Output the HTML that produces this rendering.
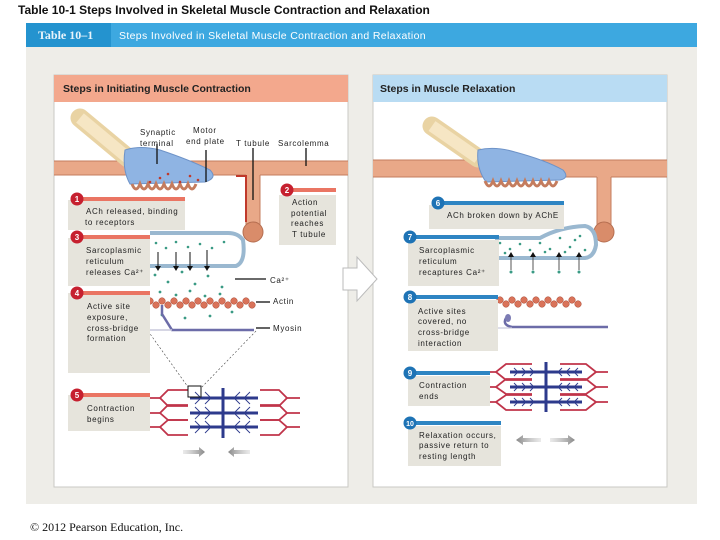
<!DOCTYPE html>
<html><head><meta charset="utf-8"><style>
html,body{margin:0;padding:0;background:#fff;}
svg{display:block;font-family:"Liberation Sans",Arial,sans-serif;}
.t{font-size:8px;fill:#222;letter-spacing:0.65px}
</style></head><body>
<svg width="720" height="540" viewBox="0 0 720 540" xmlns="http://www.w3.org/2000/svg">
<defs>
<linearGradient id="ga" x1="0" x2="1"><stop offset="0" stop-color="#bbb" stop-opacity="0.3"/><stop offset="1" stop-color="#888"/></linearGradient>
<linearGradient id="gb" x1="1" x2="0"><stop offset="0" stop-color="#bbb" stop-opacity="0.3"/><stop offset="1" stop-color="#888"/></linearGradient>
</defs>
<text x="18" y="14" font-size="12" font-weight="bold" fill="#111">Table 10-1  Steps Involved in Skeletal Muscle Contraction and Relaxation</text>
<rect x="26" y="47" width="671" height="457" fill="#eeede8"/>
<rect x="26" y="23" width="671" height="24" fill="#3da8e0"/>
<rect x="26" y="23" width="85" height="24" fill="#2493cf"/>
<text x="38" y="39" font-size="12" font-weight="bold" fill="#e8f4fb" font-family="Liberation Serif,serif">Table 10–1</text>
<text x="119" y="39" font-size="10.5" fill="#fff" letter-spacing="0.35">Steps Involved in Skeletal Muscle Contraction and Relaxation</text>

<!-- panels -->
<rect x="54" y="75" width="294" height="412" fill="#fff" stroke="#c9c9c4"/>
<rect x="54" y="75" width="294" height="27" fill="#f3a88d"/>
<text x="63" y="92" font-size="10.5" font-weight="bold" fill="#222">Steps in Initiating Muscle Contraction</text>
<rect x="373" y="75" width="294" height="412" fill="#fff" stroke="#c9c9c4"/>
<rect x="373" y="75" width="294" height="27" fill="#b9dcf3"/>
<text x="380" y="92" font-size="10.5" font-weight="bold" fill="#222">Steps in Muscle Relaxation</text>

<!-- big arrow -->
<polygon points="343,268 357,268 357,257 377,279 357,301 357,290 343,290" fill="#fff" stroke="#bbb"/>

<!-- LEFT illustration -->
<rect x="54" y="161" width="294" height="14" fill="#e9a888"/>
<line x1="54" y1="161" x2="348" y2="161" stroke="#c47c5e"/>
<line x1="54" y1="175" x2="246" y2="175" stroke="#c47c5e"/>
<line x1="260" y1="175" x2="348" y2="175" stroke="#c47c5e"/>
<rect x="246" y="174" width="14" height="56" fill="#e9a888"/>
<line x1="246" y1="175" x2="246" y2="228" stroke="#c47c5e"/>
<line x1="260" y1="175" x2="260" y2="228" stroke="#c47c5e"/>
<circle cx="253" cy="232" r="10" fill="#d98c6a" stroke="#b56e50"/>
<path d="M236 176 H246 V222" fill="none" stroke="#c0392b" stroke-width="2"/>
<path d="M80 118 L128 158" stroke="#e9d3a3" stroke-width="19" stroke-linecap="round"/>
<path d="M80 118 L128 158" stroke="#f6e6c4" stroke-width="12"/>
<path d="M125 150 Q140 145 160 150 Q190 160 210 170 Q218 178 205 182 L130 184 Q122 170 125 150Z" fill="#8fb4e3" stroke="#6e93c8"/>
<path d="M132 184 q4 10 8 0 q4 10 8 0 q4 10 8 0 q4 10 8 0 q4 10 8 0 q4 10 8 0 q4 10 8 0 q4 10 8 0" fill="none" stroke="#c47c5e" stroke-width="3"/>
<g fill="#c0392b"><circle cx="160" cy="178" r="1.3"/><circle cx="168" cy="174" r="1.3"/><circle cx="180" cy="182" r="1.3"/><circle cx="190" cy="176" r="1.3"/><circle cx="198" cy="180" r="1.3"/><circle cx="150" cy="182" r="1.3"/></g>
<g stroke="#111" stroke-width="1.3"><line x1="157" y1="144" x2="157" y2="164"/><line x1="206" y1="150" x2="206" y2="182"/><line x1="253" y1="148" x2="253" y2="200"/><line x1="306" y1="148" x2="306" y2="166"/></g>
<text class="t" x="140" y="135">Synaptic</text><text class="t" x="140" y="146">terminal</text>
<text class="t" x="193" y="133">Motor</text><text class="t" x="186" y="144">end plate</text>
<text class="t" x="236" y="146">T tubule</text><text class="t" x="278" y="146">Sarcolemma</text>
<!-- SR left -->
<path d="M150 233 H228 Q238 233 243 240 Q246 262 236 266 H150" fill="none" stroke="#9ab8d0" stroke-width="4"/>
<g fill="#3a9a84">
<circle cx="156" cy="243" r="1.3"/><circle cx="166" cy="248" r="1.3"/><circle cx="176" cy="242" r="1.3"/><circle cx="188" cy="247" r="1.3"/><circle cx="200" cy="244" r="1.3"/><circle cx="212" cy="248" r="1.3"/><circle cx="224" cy="242" r="1.3"/>
<circle cx="155" cy="275" r="1.4"/><circle cx="168" cy="282" r="1.4"/><circle cx="182" cy="272" r="1.4"/><circle cx="195" cy="284" r="1.4"/><circle cx="208" cy="276" r="1.4"/><circle cx="222" cy="287" r="1.4"/><circle cx="160" cy="292" r="1.4"/><circle cx="176" cy="295" r="1.4"/><circle cx="190" cy="291" r="1.4"/><circle cx="205" cy="296" r="1.4"/><circle cx="220" cy="294" r="1.4"/><circle cx="162" cy="315" r="1.4"/><circle cx="185" cy="318" r="1.4"/><circle cx="210" cy="316" r="1.4"/><circle cx="232" cy="312" r="1.4"/>
</g>
<g stroke="#111" stroke-width="1"><line x1="158" y1="252" x2="158" y2="268"/><line x1="176" y1="252" x2="176" y2="268"/><line x1="190" y1="252" x2="190" y2="268"/><line x1="207" y1="250" x2="207" y2="268"/></g>
<g fill="#111"><polygon points="155,266 161,266 158,271"/><polygon points="173,266 179,266 176,271"/><polygon points="187,266 193,266 190,271"/><polygon points="204,266 210,266 207,271"/></g>
<line x1="235" y1="279" x2="266" y2="279" stroke="#111" stroke-width="1.3"/><text class="t" x="270" y="283">Ca²⁺</text>
<!-- actin left -->
<g fill="#d9735a" stroke="#a94c38" stroke-width="0.5">
<circle cx="150" cy="301" r="3.3"/><circle cx="156" cy="305" r="3.3"/><circle cx="162" cy="301" r="3.3"/><circle cx="168" cy="305" r="3.3"/><circle cx="174" cy="301" r="3.3"/><circle cx="180" cy="305" r="3.3"/><circle cx="186" cy="301" r="3.3"/><circle cx="192" cy="305" r="3.3"/><circle cx="198" cy="301" r="3.3"/><circle cx="204" cy="305" r="3.3"/><circle cx="210" cy="301" r="3.3"/><circle cx="216" cy="305" r="3.3"/><circle cx="222" cy="301" r="3.3"/><circle cx="228" cy="305" r="3.3"/><circle cx="234" cy="301" r="3.3"/><circle cx="240" cy="305" r="3.3"/><circle cx="246" cy="301" r="3.3"/><circle cx="252" cy="305" r="3.3"/>
</g>
<line x1="256" y1="302" x2="270" y2="302" stroke="#111" stroke-width="1.3"/><text class="t" x="273" y="304">Actin</text>
<path d="M162 305 V314 L172 330 H254" fill="none" stroke="#6c6ca8" stroke-width="2.5"/>
<line x1="146" y1="330" x2="172" y2="330" stroke="#c8c8dc" stroke-width="1.5"/>
<line x1="256" y1="328" x2="270" y2="328" stroke="#111" stroke-width="1.3"/><text class="t" x="273" y="331">Myosin</text>
<g stroke="#444" stroke-width="0.6" stroke-dasharray="2,2"><line x1="148" y1="331" x2="188" y2="387"/><line x1="256" y1="331" x2="202" y2="387"/></g>
<!-- sarcomere left -->
<g fill="none" stroke="#c0344a" stroke-width="1.8">
<path d="M147 398 H160 L168 390 H188 M147 413 H160 L168 405 H188 M147 427 H160 L168 420 H188"/>
<path d="M160 398 L168 406 H188 M160 413 L168 420 H188 M160 427 L168 435 H188"/>
<path d="M300 398 H287 L279 390 H260 M300 413 H287 L279 405 H260 M300 427 H287 L279 420 H260"/>
<path d="M287 398 L279 406 H260 M287 413 L279 420 H260 M287 427 L279 435 H260"/>
</g>
<g stroke="#2d3a8c" stroke-width="3"><line x1="190" y1="398" x2="258" y2="398"/><line x1="190" y1="413" x2="258" y2="413"/><line x1="190" y1="427" x2="258" y2="427"/><line x1="223" y1="388" x2="223" y2="438"/></g>
<g stroke="#2d3a8c" stroke-width="0.9" fill="none"><path d="M195 392 l6 6 l-6 6 M205 392 l6 6 l-6 6 M195 407 l6 6 l-6 6 M205 407 l6 6 l-6 6 M195 421 l6 6 l-6 6 M205 421 l6 6 l-6 6 M250 392 l-6 6 l6 6 M240 392 l-6 6 l6 6 M250 407 l-6 6 l6 6 M240 407 l-6 6 l6 6 M250 421 l-6 6 l6 6 M240 421 l-6 6 l6 6"/></g>
<rect x="188" y="386" width="13" height="11" fill="none" stroke="#111" stroke-width="1"/>
<polygon points="183,450 199,450 199,447 205,452 199,457 199,454 183,454" fill="url(#ga)"/>
<polygon points="250,450 234,450 234,447 228,452 234,457 234,454 250,454" fill="url(#gb)"/>

<!-- left step boxes -->
<g fill="#e6e4dc">
<rect x="68" y="200" width="117" height="30"/><rect x="279" y="195" width="57" height="50"/>
<rect x="68" y="238" width="82" height="48"/><rect x="68" y="293" width="82" height="80"/><rect x="68" y="395" width="82" height="36"/>
</g>
<g fill="#ea7563"><rect x="75" y="197" width="110" height="4"/><rect x="285" y="188" width="51" height="4"/><rect x="75" y="235" width="75" height="4"/><rect x="75" y="291" width="75" height="4"/><rect x="75" y="393" width="75" height="4"/></g>
<g fill="#c6202f"><circle cx="77" cy="199" r="6.5"/><circle cx="287" cy="190" r="6.5"/><circle cx="77" cy="237" r="6.5"/><circle cx="77" cy="293" r="6.5"/><circle cx="77" cy="395" r="6.5"/></g>
<g fill="#fff" font-size="8" font-weight="bold" text-anchor="middle"><text x="77" y="202">1</text><text x="287" y="193">2</text><text x="77" y="240">3</text><text x="77" y="296">4</text><text x="77" y="398">5</text></g>
<text class="t" x="86" y="214">ACh released, binding</text><text class="t" x="85" y="225">to receptors</text>
<text class="t" x="292" y="205">Action</text><text class="t" x="291" y="216">potential</text><text class="t" x="291" y="226">reaches</text><text class="t" x="292" y="237">T tubule</text>
<text class="t" x="86" y="253">Sarcoplasmic</text><text class="t" x="86" y="264">reticulum</text><text class="t" x="86" y="275">releases Ca²⁺</text>
<text class="t" x="87" y="309">Active site</text><text class="t" x="87" y="320">exposure,</text><text class="t" x="87" y="331">cross-bridge</text><text class="t" x="87" y="341">formation</text>
<text class="t" x="87" y="411">Contraction</text><text class="t" x="87" y="422">begins</text>

<!-- RIGHT illustration -->
<rect x="373" y="160" width="294" height="17" fill="#e9a888"/>
<line x1="373" y1="160" x2="667" y2="160" stroke="#c47c5e"/>
<line x1="373" y1="177" x2="597" y2="177" stroke="#c47c5e"/>
<line x1="611" y1="177" x2="667" y2="177" stroke="#c47c5e"/>
<rect x="597" y="176" width="14" height="54" fill="#e9a888"/>
<line x1="597" y1="177" x2="597" y2="228" stroke="#c47c5e"/>
<line x1="611" y1="177" x2="611" y2="228" stroke="#c47c5e"/>
<circle cx="604" cy="232" r="10" fill="#d98c6a" stroke="#b56e50"/>
<path d="M432 126 L478 158" stroke="#e9d3a3" stroke-width="19" stroke-linecap="round"/>
<path d="M432 126 L478 158" stroke="#f6e6c4" stroke-width="12"/>
<path d="M478 150 Q495 146 515 152 Q545 160 563 170 Q570 178 560 180 L486 182 Q476 168 478 150Z" fill="#8fb4e3" stroke="#6e93c8"/>
<path d="M485 181 q4 10 8 0 q4 10 8 0 q4 10 8 0 q4 10 8 0 q4 10 8 0 q4 10 8 0 q4 10 8 0 q4 10 8 0 q4 10 8 0" fill="none" stroke="#c47c5e" stroke-width="3"/>
<path d="M495 238 H540 Q560 227 585 226 Q596 228 596 245 Q594 257 585 258 H495" fill="none" stroke="#9ab8d0" stroke-width="4"/>
<g fill="#3a9a84">
<circle cx="500" cy="243" r="1.3"/><circle cx="510" cy="249" r="1.3"/><circle cx="520" cy="244" r="1.3"/><circle cx="530" cy="250" r="1.3"/><circle cx="540" cy="243" r="1.3"/><circle cx="550" cy="249" r="1.3"/><circle cx="560" cy="238" r="1.3"/><circle cx="570" cy="247" r="1.3"/><circle cx="580" cy="236" r="1.3"/><circle cx="585" cy="250" r="1.3"/><circle cx="575" cy="240" r="1.3"/><circle cx="505" cy="253" r="1.3"/><circle cx="545" cy="252" r="1.3"/><circle cx="565" cy="252" r="1.3"/>
<circle cx="511" cy="272" r="1.5"/><circle cx="533" cy="272" r="1.5"/><circle cx="559" cy="272" r="1.5"/><circle cx="579" cy="272" r="1.5"/>
</g>
<g stroke="#555" stroke-width="1"><line x1="511" y1="270" x2="511" y2="256"/><line x1="533" y1="270" x2="533" y2="256"/><line x1="559" y1="270" x2="559" y2="256"/><line x1="579" y1="270" x2="579" y2="256"/></g>
<g fill="#111"><polygon points="508,257 514,257 511,252"/><polygon points="530,257 536,257 533,252"/><polygon points="556,257 562,257 559,252"/><polygon points="576,257 582,257 579,252"/></g>
<g fill="#d9735a" stroke="#a94c38" stroke-width="0.5">
<circle cx="500" cy="300" r="3.3"/><circle cx="506" cy="304" r="3.3"/><circle cx="512" cy="300" r="3.3"/><circle cx="518" cy="304" r="3.3"/><circle cx="524" cy="300" r="3.3"/><circle cx="530" cy="304" r="3.3"/><circle cx="536" cy="300" r="3.3"/><circle cx="542" cy="304" r="3.3"/><circle cx="548" cy="300" r="3.3"/><circle cx="554" cy="304" r="3.3"/><circle cx="560" cy="300" r="3.3"/><circle cx="566" cy="304" r="3.3"/><circle cx="572" cy="300" r="3.3"/><circle cx="578" cy="304" r="3.3"/>
</g>
<path d="M506 318 Q502 325 512 327 H608" fill="none" stroke="#6c6ca8" stroke-width="2.5"/>
<ellipse cx="508" cy="318" rx="3" ry="4" fill="#7c7cb4"/>
<line x1="496" y1="328" x2="512" y2="328" stroke="#c8c8dc" stroke-width="1.2"/>
<g fill="none" stroke="#c0344a" stroke-width="1.8">
<path d="M484 372 H496 L506 364 H532 M484 387 H496 L506 379 H532 M484 402 H496 L506 395 H532"/>
<path d="M496 372 L506 380 H532 M496 387 L506 394 H532 M496 402 L506 410 H532"/>
<path d="M608 372 H596 L586 364 H560 M608 387 H596 L586 379 H560 M608 402 H596 L586 395 H560"/>
<path d="M596 372 L586 380 H560 M596 387 L586 394 H560 M596 402 L586 410 H560"/>
</g>
<g stroke="#2d3a8c" stroke-width="3"><line x1="510" y1="372" x2="582" y2="372"/><line x1="510" y1="387" x2="582" y2="387"/><line x1="510" y1="402" x2="582" y2="402"/><line x1="546" y1="362" x2="546" y2="412"/></g>
<g stroke="#2d3a8c" stroke-width="0.9" fill="none"><path d="M514 368 l4 4 l-4 4 M522 368 l4 4 l-4 4 M530 368 l4 4 l-4 4 M514 383 l4 4 l-4 4 M522 383 l4 4 l-4 4 M530 383 l4 4 l-4 4 M514 398 l4 4 l-4 4 M522 398 l4 4 l-4 4 M530 398 l4 4 l-4 4 M578 368 l-4 4 l4 4 M570 368 l-4 4 l4 4 M562 368 l-4 4 l4 4 M578 383 l-4 4 l4 4 M570 383 l-4 4 l4 4 M562 383 l-4 4 l4 4 M578 398 l-4 4 l4 4 M570 398 l-4 4 l4 4 M562 398 l-4 4 l4 4"/></g>
<polygon points="541,438 523,438 523,435 516,440 523,445 523,442 541,442" fill="url(#gb)"/>
<polygon points="550,438 568,438 568,435 575,440 568,445 568,442 550,442" fill="url(#ga)"/>

<!-- right step boxes -->
<g fill="#e6e4dc">
<rect x="429" y="205" width="135" height="24"/><rect x="408" y="240" width="91" height="46"/><rect x="408" y="300" width="90" height="51"/><rect x="408" y="376" width="82" height="30"/><rect x="408" y="426" width="93" height="40"/>
</g>
<g fill="#2e85c3"><rect x="436" y="201" width="128" height="4"/><rect x="408" y="235" width="91" height="4"/><rect x="408" y="295" width="90" height="4"/><rect x="408" y="371" width="82" height="4"/><rect x="408" y="421" width="93" height="4"/></g>
<g fill="#1e73b5"><circle cx="438" cy="203" r="6.5"/><circle cx="410" cy="237" r="6.5"/><circle cx="410" cy="297" r="6.5"/><circle cx="410" cy="373" r="6.5"/><circle cx="410" cy="423" r="6.5"/></g>
<g fill="#fff" font-size="8" font-weight="bold" text-anchor="middle"><text x="438" y="206">6</text><text x="410" y="240">7</text><text x="410" y="300">8</text><text x="410" y="376">9</text><text x="410" y="426" font-size="7">10</text></g>
<text class="t" x="447" y="218">ACh broken down by AChE</text>
<text class="t" x="419" y="253">Sarcoplasmic</text><text class="t" x="419" y="264">reticulum</text><text class="t" x="419" y="275">recaptures Ca²⁺</text>
<text class="t" x="418" y="314">Active sites</text><text class="t" x="418" y="324">covered, no</text><text class="t" x="418" y="335">cross-bridge</text><text class="t" x="418" y="346">interaction</text>
<text class="t" x="419" y="388">Contraction</text><text class="t" x="419" y="399">ends</text>
<text class="t" x="419" y="438">Relaxation occurs,</text><text class="t" x="419" y="448">passive return to</text><text class="t" x="419" y="459">resting length</text>

<text x="30" y="531" font-size="12" font-family="Liberation Serif,serif" fill="#111">© 2012 Pearson Education, Inc.</text>
</svg>
</body></html>
